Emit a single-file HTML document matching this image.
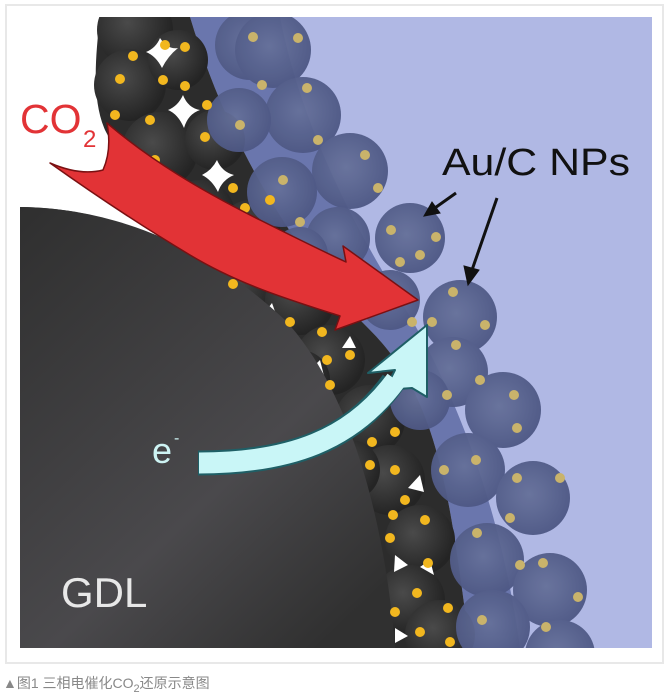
<!DOCTYPE html>
<html><head><meta charset="utf-8"><style>
html,body{margin:0;padding:0;background:#fff;width:670px;height:693px;overflow:hidden}
svg{display:block}
</style></head><body>
<svg width="670" height="693" viewBox="0 0 670 693" xmlns="http://www.w3.org/2000/svg">
<defs>
<radialGradient id="dk" cx="0.4" cy="0.4" r="0.6"><stop offset="0" stop-color="#4a4a4a"/><stop offset="1" stop-color="#242424"/></radialGradient>
<radialGradient id="bl" cx="0.45" cy="0.45" r="0.6"><stop offset="0" stop-color="#66719a"/><stop offset="1" stop-color="#4c5683"/></radialGradient>
<linearGradient id="gdl" x1="0" y1="0" x2="0.8" y2="1"><stop offset="0" stop-color="#2f2f2f"/><stop offset="0.65" stop-color="#4a494c"/><stop offset="1" stop-color="#303030"/></linearGradient>
<clipPath id="fr"><rect x="20" y="17" width="632" height="631"/></clipPath>
</defs>
<rect x="0" y="0" width="670" height="693" fill="#fff"/>
<rect x="6" y="5" width="657" height="658" fill="#fff" stroke="#e8e8e8" stroke-width="2"/>
<g clip-path="url(#fr)">
<rect x="20" y="17" width="632" height="631" fill="#b0b8e4"/>
<path d="M190,17 C230,150 300,260 370,330 S450,500 470,648 L520,648 C500,500 450,380 400,300 S300,120 280,17 Z" fill="#6a76ad"/>
<path d="M20,17 L190,17 C230,150 300,260 370,330 S450,500 470,648 L20,648 Z" fill="#2c2c2c"/>
<path d="M20,17 L100,17 C95,60 92,100 105,130 C130,180 180,230 235,285 C170,240 110,208 20,207 Z" fill="#fff"/>
<g fill="url(#dk)">
<circle cx="135" cy="30" r="38"/><circle cx="130" cy="85" r="36"/><circle cx="178" cy="60" r="30"/>
<circle cx="160" cy="150" r="38"/><circle cx="215" cy="140" r="30"/><circle cx="200" cy="215" r="35"/>
<circle cx="250" cy="230" r="30"/><circle cx="240" cy="290" r="35"/><circle cx="300" cy="300" r="35"/>
<circle cx="330" cy="360" r="35"/><circle cx="300" cy="380" r="30"/><circle cx="370" cy="420" r="35"/>
<circle cx="390" cy="480" r="35"/><circle cx="420" cy="540" r="35"/><circle cx="410" cy="600" r="35"/>
<circle cx="440" cy="635" r="35"/><circle cx="350" cy="470" r="30"/>
</g>
<g fill="#fff">
<path d="M160,38 Q168,50 178,48 Q168,56 162,68 Q156,56 146,52 Q156,48 160,38Z"/>
<path d="M183,95 Q188,108 200,110 Q188,114 184,128 Q178,114 168,110 Q178,106 183,95Z"/>
<path d="M217,160 Q222,172 234,175 Q222,180 218,192 Q212,180 202,175 Q212,170 217,160Z"/>
<path d="M272,303 L262,316 L278,320 Z"/><path d="M320,360 L308,372 L324,376 Z"/>
<path d="M350,336 L342,348 L356,348 Z"/><path d="M420,475 L408,488 L424,492Z"/>
<path d="M395,555 L408,565 L394,572Z"/><path d="M430,560 L420,567 L434,575Z"/>
<path d="M395,628 L408,636 L395,643Z"/>
</g>
<path d="M20,207 C120,208 210,250 285,320 C350,390 385,520 395,648 L20,648 Z" fill="url(#gdl)"/>
<g fill="url(#bl)" opacity="0.95">
<circle cx="250" cy="45" r="35"/><circle cx="273" cy="50" r="38"/><circle cx="303" cy="115" r="38"/>
<circle cx="239" cy="120" r="32"/><circle cx="350" cy="171" r="38"/><circle cx="282" cy="192" r="35"/>
<circle cx="338" cy="239" r="32"/><circle cx="300" cy="255" r="28"/><circle cx="410" cy="238" r="35"/>
<circle cx="390" cy="300" r="30"/><circle cx="460" cy="317" r="37"/><circle cx="453" cy="372" r="35"/>
<circle cx="420" cy="400" r="30"/><circle cx="503" cy="410" r="38"/><circle cx="468" cy="470" r="37"/>
<circle cx="533" cy="498" r="37"/><circle cx="487" cy="560" r="37"/><circle cx="550" cy="590" r="37"/>
<circle cx="493" cy="627" r="37"/><circle cx="560" cy="655" r="35"/>
</g>
<g fill="#c9b36b">
<circle cx="253" cy="37" r="5"/><circle cx="298" cy="38" r="5"/><circle cx="262" cy="85" r="5"/><circle cx="307" cy="88" r="5"/>
<circle cx="318" cy="140" r="5"/><circle cx="240" cy="125" r="5"/><circle cx="365" cy="155" r="5"/><circle cx="378" cy="188" r="5"/>
<circle cx="283" cy="180" r="5"/><circle cx="300" cy="222" r="5"/><circle cx="391" cy="230" r="5"/><circle cx="436" cy="237" r="5"/>
<circle cx="400" cy="262" r="5"/><circle cx="420" cy="255" r="5"/><circle cx="453" cy="292" r="5"/><circle cx="485" cy="325" r="5"/>
<circle cx="432" cy="322" r="5"/><circle cx="412" cy="322" r="5"/><circle cx="456" cy="345" r="5"/><circle cx="480" cy="380" r="5"/>
<circle cx="447" cy="395" r="5"/><circle cx="514" cy="395" r="5"/><circle cx="517" cy="428" r="5"/><circle cx="476" cy="460" r="5"/>
<circle cx="444" cy="470" r="5"/><circle cx="517" cy="478" r="5"/><circle cx="560" cy="478" r="5"/><circle cx="510" cy="518" r="5"/>
<circle cx="477" cy="533" r="5"/><circle cx="543" cy="563" r="5"/><circle cx="520" cy="565" r="5"/><circle cx="578" cy="597" r="5"/>
<circle cx="482" cy="620" r="5"/><circle cx="546" cy="627" r="5"/>
</g>
<g fill="#f2b71f">
<circle cx="133" cy="56" r="5"/><circle cx="165" cy="45" r="5"/><circle cx="185" cy="47" r="5"/><circle cx="120" cy="79" r="5"/>
<circle cx="163" cy="80" r="5"/><circle cx="185" cy="86" r="5"/><circle cx="115" cy="115" r="5"/><circle cx="150" cy="120" r="5"/>
<circle cx="207" cy="105" r="5"/><circle cx="155" cy="160" r="5"/><circle cx="205" cy="137" r="5"/><circle cx="233" cy="188" r="5"/>
<circle cx="195" cy="215" r="5"/><circle cx="245" cy="208" r="5"/><circle cx="253" cy="236" r="5"/><circle cx="270" cy="200" r="5"/>
<circle cx="280" cy="255" r="5"/><circle cx="233" cy="284" r="5"/><circle cx="270" cy="283" r="5"/><circle cx="290" cy="322" r="5"/>
<circle cx="318" cy="302" r="5"/><circle cx="322" cy="332" r="5"/><circle cx="327" cy="360" r="5"/><circle cx="350" cy="355" r="5"/>
<circle cx="330" cy="385" r="5"/><circle cx="375" cy="410" r="5"/><circle cx="395" cy="432" r="5"/><circle cx="372" cy="442" r="5"/>
<circle cx="395" cy="470" r="5"/><circle cx="370" cy="465" r="5"/><circle cx="405" cy="500" r="5"/><circle cx="393" cy="515" r="5"/>
<circle cx="425" cy="520" r="5"/><circle cx="390" cy="538" r="5"/><circle cx="428" cy="563" r="5"/><circle cx="417" cy="593" r="5"/>
<circle cx="448" cy="608" r="5"/><circle cx="395" cy="612" r="5"/><circle cx="420" cy="632" r="5"/><circle cx="450" cy="642" r="5"/>
</g>
<path d="M50,163 Q80,176 103,170 Q112,150 107,123 C150,160 200,190 260,220 C290,235 320,250 346,262 L343,246 L418,300 L335,330 L340,316 C290,300 240,285 190,255 C140,225 95,195 50,163 Z" fill="#e23336" stroke="#7a1012" stroke-width="1.5" stroke-linejoin="round"/>
<path d="M198,463 C290,463 352,440 393,382" fill="none" stroke="#1f5f66" stroke-width="25"/>
<path d="M427,325 L368,373 L395,370 L385,390 L412,388 L427,397 Z" fill="#c9f6f7" stroke="#1f5f66" stroke-width="2" stroke-linejoin="round"/>
<path d="M199,463 C290,463 352,440 396,380" fill="none" stroke="#c9f6f7" stroke-width="21"/>
<g stroke="#111" stroke-width="3" fill="#111">
<line x1="456" y1="193" x2="432" y2="210"/><path d="M424,216 L432,202 L440,213 Z" stroke-width="1"/>
<line x1="497" y1="198" x2="472" y2="270"/><path d="M468,285 L464,266 L479,270 Z" stroke-width="1"/>
</g>
<text x="20" y="133" font-family="Liberation Sans, sans-serif" font-size="41" fill="#e23336">CO</text>
<text x="83" y="147" font-family="Liberation Sans, sans-serif" font-size="24" fill="#e23336">2</text>
<text x="442" y="175" font-family="Liberation Sans, sans-serif" font-size="38" fill="#111" textLength="188" lengthAdjust="spacingAndGlyphs">Au/C NPs</text>
<text x="152" y="463" font-family="Liberation Sans, sans-serif" font-size="36" fill="#cdf3f3">e</text>
<text x="174" y="443" font-family="Liberation Sans, sans-serif" font-size="16" fill="#cdf3f3">-</text>
<text x="61" y="607" font-family="Liberation Sans, sans-serif" font-size="42" fill="#e8e8e8">GDL</text>
</g>
<text x="3" y="688" font-family="Liberation Sans, 'Noto Sans CJK SC', sans-serif" font-size="14" fill="#888">▲图1  三相电催化CO<tspan font-size="11" dy="4">2</tspan><tspan dy="-4">还原示意图</tspan></text>
</svg>
</body></html>
